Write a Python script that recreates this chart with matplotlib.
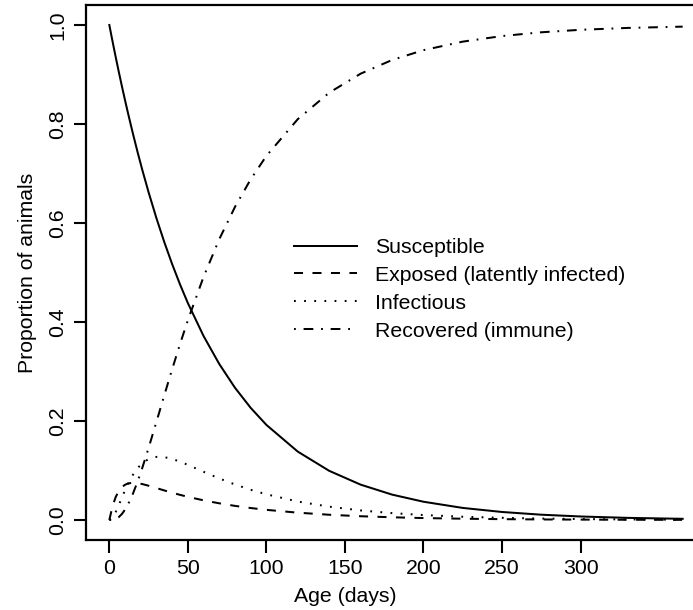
import matplotlib
matplotlib.use("Agg")
import matplotlib.pyplot as plt

plt.rcParams['font.family'] = ['Liberation Sans', 'DejaVu Sans']
plt.rcParams['lines.scale_dashes'] = False

age = [0, 2, 4, 6, 8, 10, 12, 15, 18, 21, 25, 30, 35, 40, 45, 50, 60, 70, 80, 90,
       100, 120, 140, 160, 180, 200, 225, 250, 275, 300, 330, 365]
susceptible = [1.0, 0.9675, 0.9361, 0.9057, 0.8763, 0.8479, 0.8204, 0.7808, 0.7430, 0.7071,
               0.6620, 0.6096, 0.5613, 0.5169, 0.4759, 0.4382, 0.3716, 0.3151, 0.2671, 0.2265,
               0.1921, 0.1381, 0.0993, 0.0714, 0.0513, 0.0369, 0.0244, 0.0162, 0.0107, 0.0071,
               0.0043, 0.0024]
exposed = [0.0, 0.0275, 0.0461, 0.0585, 0.0664, 0.0712, 0.0739, 0.0752, 0.0744, 0.0726,
           0.0692, 0.0645, 0.0597, 0.0551, 0.0508, 0.0468, 0.0397, 0.0337, 0.0285, 0.0242,
           0.0205, 0.0148, 0.0106, 0.0076, 0.0055, 0.0039, 0.0026, 0.0017, 0.0011, 0.0008,
           0.0005, 0.0003]
infectious = [0.0, 0.0047, 0.0158, 0.0300, 0.0452, 0.0600, 0.0736, 0.0911, 0.1048, 0.1148,
              0.1232, 0.1275, 0.1270, 0.1234, 0.1179, 0.1114, 0.0974, 0.0839, 0.0717, 0.0610,
              0.0519, 0.0373, 0.0269, 0.0193, 0.0139, 0.0100, 0.0066, 0.0044, 0.0029, 0.0019,
              0.0012, 0.0007]
recovered = [0.0, 0.0003, 0.0019, 0.0058, 0.0121, 0.0209, 0.0322, 0.0530, 0.0778, 0.1055,
             0.1456, 0.1985, 0.2520, 0.3047, 0.3554, 0.4036, 0.4913, 0.5674, 0.6326, 0.6883,
             0.7356, 0.8099, 0.8633, 0.9017, 0.9293, 0.9492, 0.9664, 0.9777, 0.9853, 0.9903,
             0.9941, 0.9967]

labels = ["Susceptible", "Exposed (latently infected)", "Infectious", "Recovered (immune)"]
xticks = [0, 50, 100, 150, 200, 250, 300]
yticks = [0.0, 0.2, 0.4, 0.6, 0.8, 1.0]

W, H = 693, 610
fig = plt.figure(figsize=(W / 100, H / 100), dpi=100)
left, right, top, bottom = 86.4, 705.6, 5.2, 539.8
ax = fig.add_axes([left / W, 1 - bottom / H, (right - left) / W, (bottom - top) / H])

lw = 1.45
ax.plot(age, susceptible, color='black', lw=lw, label=labels[0])
ax.plot(age, exposed, color='black', lw=lw, dashes=(6.5, 6.8), label=labels[1])
ax.plot(age, infectious, color='black', lw=lw, dashes=(1.3, 6.0), label=labels[2])
ax.plot(age, recovered, color='black', lw=lw, dashes=(1.3, 5.6, 7.0, 5.6), label=labels[3])

ax.set_xlim(-14.6, 379.6)
ax.set_ylim(-0.04, 1.04)
ax.set_xticks(xticks)
ax.set_xticklabels([str(v) for v in xticks])
ax.set_yticks(yticks)
ax.set_yticklabels([f"{v:.1f}" for v in yticks], rotation=90, va='center')

for s in ax.spines.values():
    s.set_linewidth(1.6)
ax.tick_params(axis='both', direction='out', length=9, width=1.5, labelsize=15.3, color='black')
ax.tick_params(axis='y', pad=5)
ax.tick_params(axis='x', pad=5)

ax.set_xlabel("Age (days)", fontsize=15.3)
ax.xaxis.label.set_va('top')
ax.xaxis.set_label_coords(150, -0.088, transform=ax.get_xaxis_transform())
ax.set_ylabel("Proportion of animals", fontsize=15.3, labelpad=8)

leg = ax.legend(loc='upper left', bbox_to_anchor=((294 - left) / (right - left), 1 - (238 - top) / (bottom - top)),
                frameon=False, fontsize=15.3, handlelength=2.95, handletextpad=0.85,
                labelspacing=0.42, borderaxespad=0, borderpad=0)

fig.savefig("out.png", dpi=100)
